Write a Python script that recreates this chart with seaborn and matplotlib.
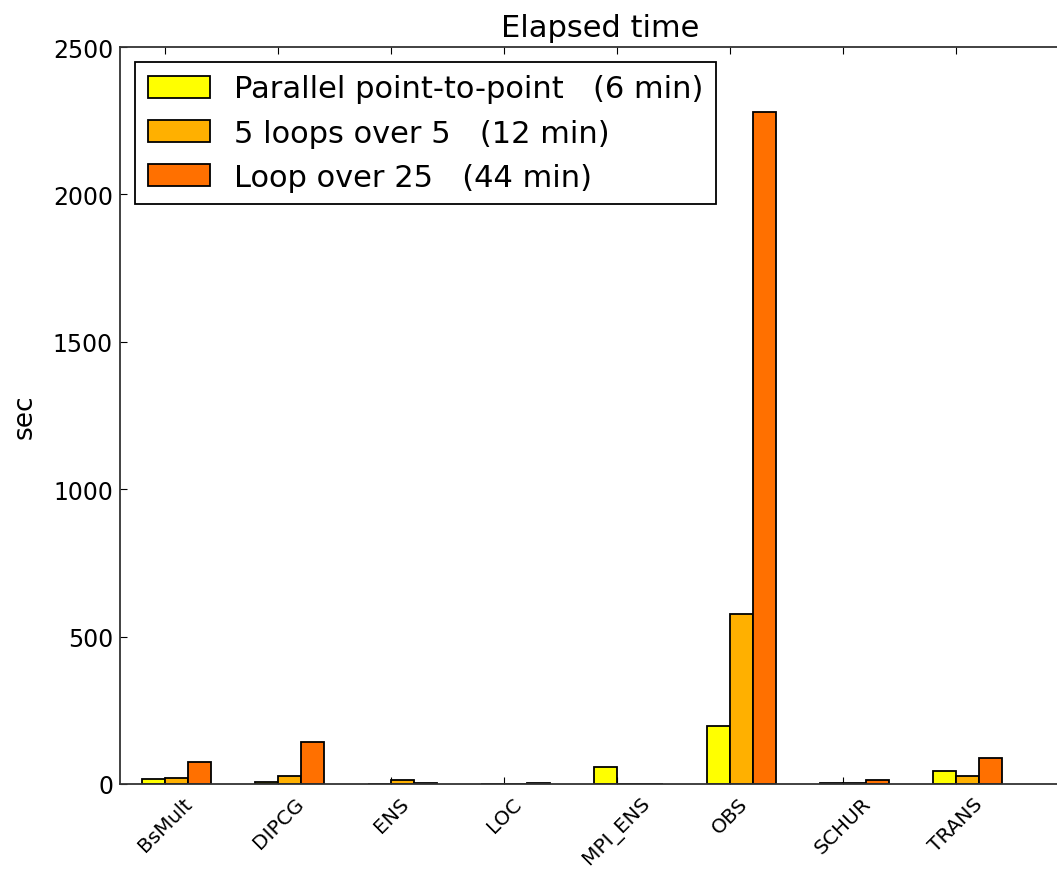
import numpy as np
import pandas as pd
import matplotlib
matplotlib.use("Agg")
import matplotlib.pyplot as plt
import seaborn as sns

# === Data ===
kernels = ["BsMult", "DIPCG", "ENS", "LOC", "MPI_ENS", "OBS", "SCHUR", "TRANS"]
series = ["Parallel point-to-point   (6 min)", "5 loops over 5   (12 min)", "Loop over 25   (44 min)"]
parallel_p2p = [17, 8, 1, 1, 58, 197, 3, 44]
loops_5x5 = [21, 27, 15, 1, 0, 577, 4, 27]
loop_25 = [75, 142, 4, 3, 0, 2280, 15, 88]
colors = ["#ffff00", "#ffb000", "#ff7000"]

df = pd.DataFrame({
    "kernel": kernels * 3,
    "run": np.repeat(series, len(kernels)),
    "sec": parallel_p2p + loops_5x5 + loop_25,
})

sns.set_style("ticks")
plt.rcParams["xtick.direction"] = "in"
plt.rcParams["ytick.direction"] = "in"
plt.rcParams["text.color"] = "black"
plt.rcParams["axes.labelcolor"] = "black"
plt.rcParams["xtick.color"] = "black"
plt.rcParams["ytick.color"] = "black"

fig = plt.figure(figsize=(10.57, 8.7), dpi=100)
ax = fig.add_axes([120 / 1057, 1 - 785 / 870, 960 / 1057, 737 / 870])

sns.barplot(data=df, x="kernel", y="sec", hue="run", palette=colors, saturation=1,
            width=0.61, edgecolor="black", linewidth=1.3, ax=ax)

ax.set_xlim(-0.5, 8.0)
ax.set_ylim(0, 2500)
ax.set_yticks([0, 500, 1000, 1500, 2000, 2500])
# ticks sit a little left of each group's centre, as in the original
ax.set_xticks(np.arange(len(kernels)) - 0.1)
ax.set_xticklabels(kernels, rotation=45, ha="center", fontsize=14.5)
ax.tick_params(axis="y", labelsize=17, length=5, right=True, pad=5)
ax.tick_params(axis="x", length=5, top=True, pad=7)
ax.set_xlabel("")
ax.set_ylabel("sec", fontsize=19, labelpad=11)
ax.set_title("Elapsed time", fontsize=22, pad=8)
for s in ax.spines.values():
    s.set_color("#333333")
    s.set_linewidth(1.3)

handles, labels = ax.get_legend_handles_labels()
leg = ax.legend(handles, labels, loc="upper left", fontsize=22, fancybox=False,
                framealpha=1, edgecolor="black", handlelength=2.06, handleheight=0.72,
                handletextpad=0.78, borderaxespad=0.5, borderpad=0.4, labelspacing=0.5)
leg.get_frame().set_linewidth(1.3)

fig.savefig("out.png", dpi=100)
